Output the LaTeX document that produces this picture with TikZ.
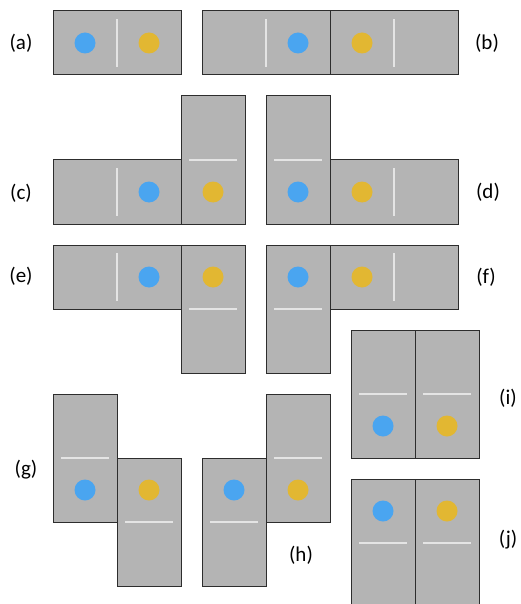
\documentclass[tikz,border=0pt]{standalone}
\usepackage{fontspec}
\setmainfont{Carlito}
\definecolor{tilegray}{RGB}{180,180,180}
\definecolor{tileedge}{RGB}{45,45,45}
\definecolor{midcol}{RGB}{228,228,228}
\definecolor{dotblue}{RGB}{74,165,240}
\definecolor{dotyellow}{RGB}{226,183,50}
\newcommand{\hdom}[2]{\draw[tile] (#1,#2) rectangle ++(128,64); \draw[midl] (#1+64,#2+8) -- ++(0,48);}
\newcommand{\vdom}[2]{\draw[tile] (#1,#2) rectangle ++(64,128); \draw[midl] (#1+8,#2+64) -- ++(48,0);}
\newcommand{\bdot}[2]{\fill[dotblue] (#1,#2) circle (10.5);}
\newcommand{\ydot}[2]{\fill[dotyellow] (#1,#2) circle (10.5);}
\begin{document}
\begin{tikzpicture}[x=1pt,y=-1pt,
  tile/.style={fill=tilegray,draw=tileedge,line width=1pt},
  midl/.style={draw=midcol,line width=1.5pt},
  lab/.style={inner sep=0pt,font=\fontsize{21}{25}\selectfont}]
\useasboundingbox (0,0) rectangle (521,604);
% (a)
\hdom{53}{11} \bdot{85}{43} \ydot{149}{43}
\node[lab] (la) at (21,43) {(a)};
% (b)
\hdom{202}{11} \hdom{330}{11} \bdot{298}{43} \ydot{362}{43}
\node[lab] (lb) at (487,43) {(b)};
% (c)
\hdom{53}{160} \vdom{181}{96} \bdot{149}{192} \ydot{213}{192}
\node[lab] (lc) at (21,193) {(c)};
% (d)
\vdom{266}{96} \hdom{330}{160} \bdot{298}{192} \ydot{362}{192}
\node[lab] (ld) at (488,192) {(d)};
% (e)
\hdom{53}{245} \vdom{181}{245} \bdot{149}{277} \ydot{213}{277}
\node[lab] (le) at (21,276) {(e)};
% (f)
\vdom{266}{245} \hdom{330}{245} \bdot{298}{277} \ydot{362}{277}
\node[lab] (lf) at (486,277) {(f)};
% (g)
\vdom{53}{394} \vdom{117}{458} \bdot{85}{490} \ydot{149}{490}
\node[lab] (lg) at (26,470) {(g)};
% (h)
\vdom{202}{458} \vdom{266}{394} \bdot{234}{490} \ydot{298}{490}
\node[lab] (lh) at (301,555) {(h)};
% (i)
\vdom{351}{330} \vdom{415}{330} \bdot{383}{426} \ydot{447}{426}
\node[lab] (li) at (508,398) {(i)};
% (j)
\vdom{351}{479} \vdom{415}{479} \bdot{383}{511} \ydot{447}{511}
\node[lab] (lj) at (508,540) {(j)};
\end{tikzpicture}
\end{document}
